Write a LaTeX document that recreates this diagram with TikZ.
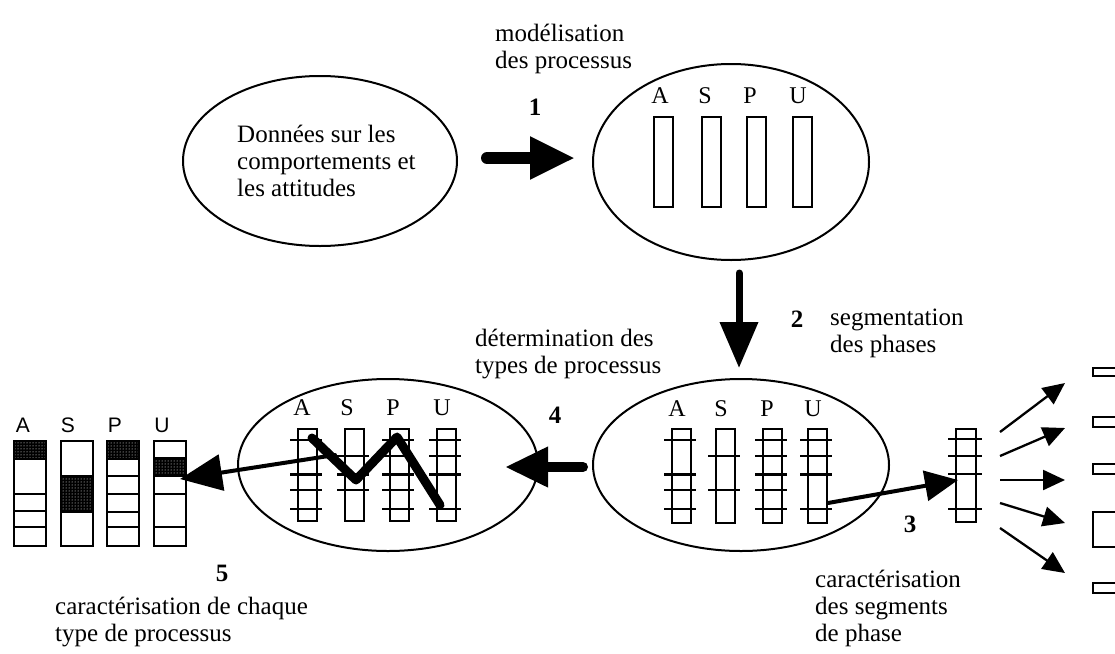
\documentclass[tikz,border=0pt]{standalone}
\usepackage{fontspec}
\setmainfont{Liberation Serif}
\newfontfamily\pixsans{Liberation Sans}
\usetikzlibrary{shapes.geometric,arrows.meta,patterns}
\begin{document}
\begin{tikzpicture}[x=1pt,y=-1pt,
  txt/.style={font=\fontsize{25}{27}\selectfont, inner sep=0pt, anchor=base west},
  num/.style={font=\fontsize{25}{27}\selectfont\bfseries, inner sep=0pt, anchor=base},
  lett/.style={font=\fontsize{24}{27}\selectfont, inner sep=0pt, anchor=base},
  slett/.style={font=\fontsize{21}{25}\pixsans, inner sep=0pt, anchor=base},
  oval/.style={draw, ellipse, line width=2pt, inner sep=0pt},
  barbox/.style={draw, line width=2pt},
  tk/.style={line width=2pt},
  tkthick/.style={line width=3pt},
  fan/.style={line width=2.3pt, -{Triangle[length=22pt, width=20pt]}},
]
\useasboundingbox (0,0) rectangle (1115,653);

% ---------- ellipses ----------
\node[oval, minimum width=274pt, minimum height=170pt] (e1) at (320,161) {};
\node[oval, minimum width=276pt, minimum height=196pt] (e2) at (731,162) {};
\node[oval, minimum width=296pt, minimum height=172pt] (e3) at (741,465) {};
\node[oval, minimum width=300pt, minimum height=172pt] (e4) at (388,465) {};

% ---------- texts ----------
\node[txt] (t1a) at (237,142) {Données sur les};
\node[txt] (t1b) at (237,169) {comportements et};
\node[txt] (t1c) at (237,196) {les attitudes};

\node[txt] (m1) at (495,41) {modélisation};
\node[txt] (m2) at (495,68) {des processus};
\node[num] (n1) at (535,115) {1};

\node[txt] (s1) at (830,325) {segmentation};
\node[txt] (s2) at (830,352) {des phases};
\node[num] (n2) at (797,327) {2};

\node[txt] (d1) at (475,346) {détermination des};
\node[txt] (d2) at (475,373) {types de processus};
\node[num] (n4) at (555,423) {4};

\node[num] (n3) at (910,532) {3};
\node[txt] (c1) at (815,587) {caractérisation};
\node[txt] (c2) at (815,614) {des segments};
\node[txt] (c3) at (815,641) {de phase};

\node[num] (n5) at (222,581) {5};
\node[txt] (k1) at (55,614) {caractérisation de chaque};
\node[txt] (k2) at (55,641) {type de processus};

% ---------- ellipse 2 : plain bars ----------
\foreach \x/\l/\lx in {654/A/660, 702/S/705, 747/P/750, 793/U/798}{
  \node[lett] at (\lx,103) {\l};
  \draw[barbox] (\x,117) rectangle ++(19,90);
}

% ---------- ellipse 3 : segmented bars ----------
\foreach \x/\l/\lx in {672/A/677, 716/S/721, 763/P/767, 808/U/813}{
  \node[lett] at (\lx,416) {\l};
  \draw[barbox] (\x,429) rectangle ++(19,94);
}
\foreach \x/\y in {672/440,672/490,672/509, 716/456,716/490,
                   763/440,763/456,763/490,763/509, 808/440,808/456,808/509}{
  \draw[tk] (\x-8,\y) -- (\x+24,\y);
}
\foreach \x in {672,763,808}{\draw[tkthick] (\x-8,474) -- (\x+24,474);}

% ---------- ellipse 4 : segmented bars ----------
\foreach \x/\l/\lx in {298/A/302, 345/S/347, 390/P/393, 437/U/442}{
  \node[lett] at (\lx,415) {\l};
  \draw[barbox] (\x,429) rectangle ++(19,92);
}
\foreach \x/\y in {298/440,298/490,298/509, 345/456,345/490,
                   390/440,390/456,390/490,390/509, 437/440,437/456,437/509}{
  \draw[tk] (\x-8,\y) -- (\x+24,\y);
}
\foreach \x in {298,345,390,437}{\draw[tkthick] (\x-8,474) -- (\x+24,474);}

% zigzag profile
\draw[line width=9pt, line cap=round, line join=round]
  (312,438) -- (356,480) -- (397,437) -- (440,505);

% ---------- single segmented bar (right) ----------
\node[draw, line width=2pt, minimum width=20pt, minimum height=93pt, inner sep=0pt] (sb) at (966,475.5) {};
\foreach \y in {439,456,474,509}{\draw[tk] (948,\y) -- (982,\y);}

% ---------- right small rectangles ----------
\node[draw, line width=2pt, minimum width=34pt, minimum height=8pt, inner sep=0pt, anchor=west] (r1) at (1092,372) {};
\node[draw, line width=2pt, minimum width=34pt, minimum height=10pt, inner sep=0pt, anchor=west] (r2) at (1092,422) {};
\node[draw, line width=2pt, minimum width=34pt, minimum height=10pt, inner sep=0pt, anchor=west] (r3) at (1092,469) {};
\node[draw, line width=2pt, minimum width=34pt, minimum height=35pt, inner sep=0pt, anchor=west] (r4) at (1092,529.5) {};
\node[draw, line width=2pt, minimum width=34pt, minimum height=10pt, inner sep=0pt, anchor=west] (r5) at (1092,588) {};

% ---------- left result bars ----------
\foreach \x/\l/\lx in {14/A/23, 61/S/68, 107/P/115, 154/U/162}{
  \node[slett] at (\lx,432) {\l};
}
\foreach \x/\ya/\yb in {14/441/459, 61/476/512, 107/441/459, 154/458/476}{
  \fill[black] (\x,\ya) rectangle (\x+32,\yb);
  \fill[pattern=dots, pattern color=white] (\x,\ya) rectangle (\x+32,\yb);
}
\foreach \x in {14,61,107,154}{\draw[barbox] (\x,441) rectangle (\x+32,546);}
\foreach \x/\y in {14/459,14/494,14/511,14/527, 61/476,61/512,
                   107/459,107/476,107/494,107/512,107/527,
                   154/458,154/476,154/494,154/527}{
  \draw[tk] (\x,\y) -- (\x+32,\y);
}

% ---------- arrow coordinates ----------
\coordinate (a1s) at (487,158); \coordinate (a1e) at (575,158);
\coordinate (a2s) at (739,273); \coordinate (a2e) at (739,368);
\coordinate (a4s) at (583,467); \coordinate (a4e) at (505,467);
\coordinate (a5s) at (335,455); \coordinate (a5e) at (180,479);
\coordinate (a3s) at (828,503); \coordinate (a3e) at (958,480);
\coordinate (f1s) at (1000,432); \coordinate (f1e) at (1065,383);
\coordinate (f2s) at (1000,456); \coordinate (f2e) at (1065,428);
\coordinate (f3s) at (1000,480); \coordinate (f3e) at (1065,480);
\coordinate (f4s) at (1000,503); \coordinate (f4e) at (1065,523);
\coordinate (f5s) at (1000,528); \coordinate (f5e) at (1065,573);

% ---------- arrows ----------
\draw[line width=12pt, line cap=round, -{Triangle[length=45pt, width=40pt]}] (a1s) -- (a1e);
\draw[line width=7pt, line cap=round, -{Triangle[length=46pt, width=37pt]}] (a2s) -- (a2e);
\draw[line width=10pt, line cap=round, -{Triangle[length=43pt, width=38pt]}] (a4s) -- (a4e);
\draw[line width=4pt, line cap=round, -{Triangle[length=42pt, width=36pt]}] (a5s) -- (a5e);
\draw[line width=4pt, line cap=round, -{Triangle[length=33pt, width=30pt]}] (a3s) -- (a3e);
\foreach \i in {1,...,5}{\draw[fan] (f\i s) -- (f\i e);}
\end{tikzpicture}
\end{document}
